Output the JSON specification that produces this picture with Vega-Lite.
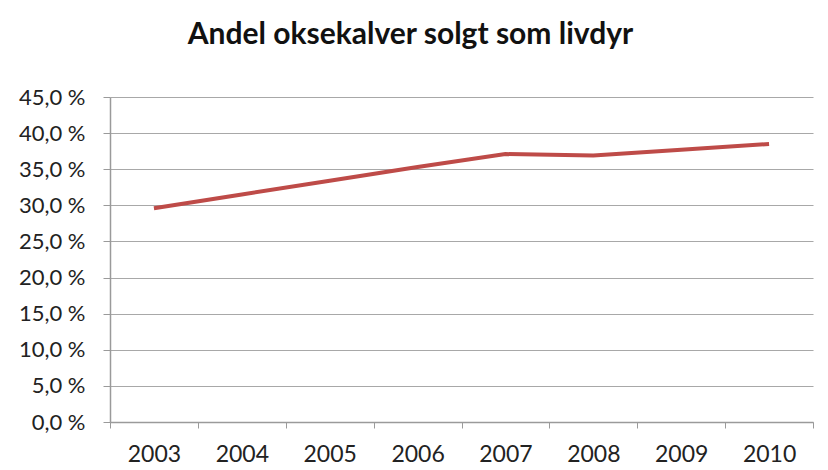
{
  "$schema": "https://vega.github.io/schema/vega-lite/v6.json",
  "autosize": {"type": "none"},
  "width": 703,
  "height": 325,
  "padding": {"left": 110, "top": 97, "right": 15, "bottom": 48},
  "background": "white",
  "title": {
    "text": "Andel oksekalver solgt som livdyr",
    "font": "Lato",
    "fontSize": 30,
    "fontWeight": "bold",
    "color": "#111111",
    "anchor": "middle",
    "dx": -51,
    "offset": 36
  },
  "data": {
    "values": [
      {"year": "2003", "share": 29.6},
      {"year": "2004", "share": 31.5},
      {"year": "2005", "share": 33.4},
      {"year": "2006", "share": 35.3},
      {"year": "2007", "share": 37.1},
      {"year": "2008", "share": 36.9},
      {"year": "2009", "share": 37.7},
      {"year": "2010", "share": 38.5}
    ]
  },
  "mark": {"type": "line", "color": "#BE4B48", "strokeWidth": 4},
  "encoding": {
    "x": {
      "field": "year",
      "type": "ordinal",
      "scale": {"type": "band", "paddingInner": 0, "paddingOuter": 0},
      "axis": {
        "title": null,
        "labelAngle": 0,
        "labelFont": "Lato",
        "labelFontSize": 23,
        "labelColor": "#222222",
        "labelPadding": 15,
        "tickBand": "extent",
        "tickSize": 6,
        "tickColor": "#9a9a9a",
        "domainColor": "#9a9a9a",
        "domainWidth": 1.5,
        "grid": false
      }
    },
    "y": {
      "field": "share",
      "type": "quantitative",
      "scale": {"domain": [0, 45], "nice": false},
      "axis": {
        "title": null,
        "values": [0, 5, 10, 15, 20, 25, 30, 35, 40, 45],
        "labelExpr": "replace(format(datum.value, '.1f'), '.', ',') + ' %'",
        "labelFont": "Lato",
        "labelFontSize": 22,
        "labelColor": "#222222",
        "labelPadding": 18,
        "tickSize": 7,
        "tickColor": "#9a9a9a",
        "domainColor": "#9a9a9a",
        "domainWidth": 1.5,
        "gridColor": "#a8a8a8",
        "gridWidth": 1.2
      }
    }
  },
  "config": {"view": {"stroke": null}}
}
